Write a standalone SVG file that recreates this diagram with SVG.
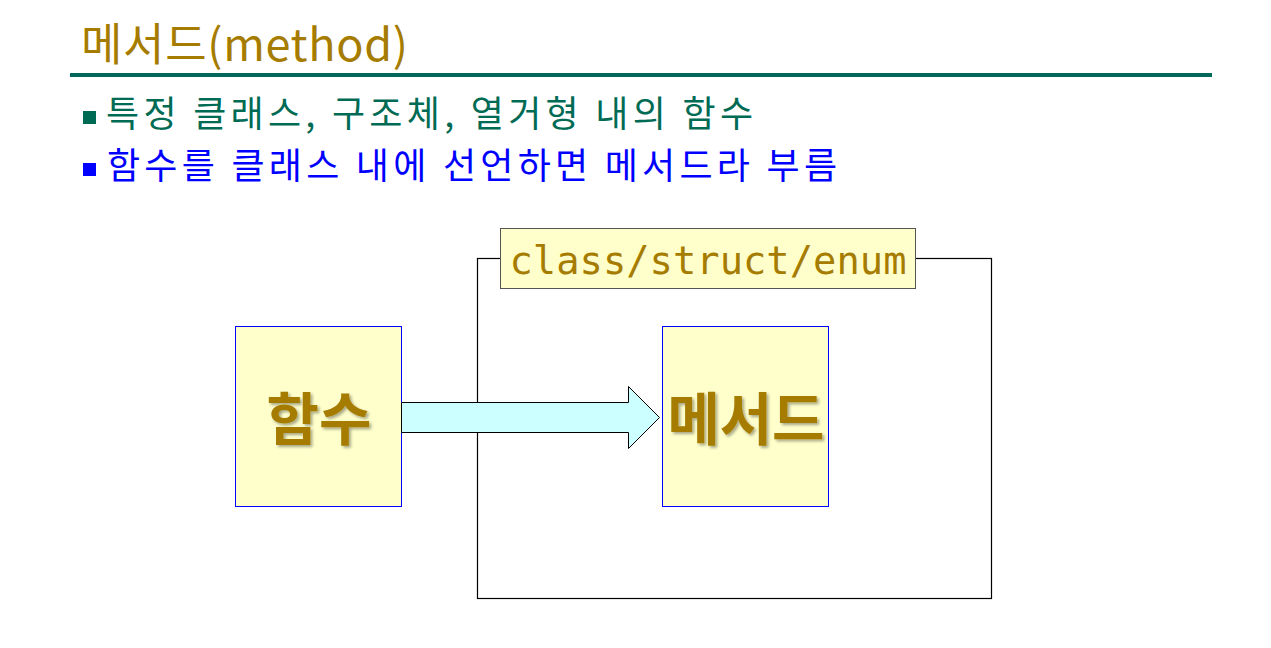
<svg xmlns="http://www.w3.org/2000/svg" width="1271" height="648" viewBox="0 0 1271 648">
<defs>
<style>
.kr{font-family:"Noto Sans CJK KR","Liberation Sans",sans-serif;}
.title{font-size:45px;fill:#A67C00;}
.b1{font-size:36px;fill:#006B54;}
.b2{font-size:36px;fill:#0000FF;}
.box{fill:#FFFFCC;stroke:#0000FF;stroke-width:1;}
.big{font-size:57px;font-weight:bold;fill:#A67C00;filter:url(#sh);}
.mono{font-family:"DejaVu Sans Mono","Liberation Mono",monospace;font-size:39px;fill:#A67C00;}
</style>
<filter id="sh" x="-10%" y="-10%" width="130%" height="130%">
<feGaussianBlur in="SourceAlpha" stdDeviation="1.5"/>
<feOffset dx="2" dy="2" result="b"/>
<feComponentTransfer><feFuncA type="linear" slope="0.35"/></feComponentTransfer>
<feMerge><feMergeNode/><feMergeNode in="SourceGraphic"/></feMerge>
</filter>
</defs>
<rect width="1271" height="648" fill="#FFFFFF"/>
<g id="header">
<text class="kr title" x="81" y="61" textLength="327" lengthAdjust="spacing">메서드(method)</text>
<rect x="70" y="73" width="1142" height="4" fill="#00695C"/>
<rect x="83" y="111" width="13" height="13" fill="#006B54"/>
<text class="kr b1" x="106" y="127" textLength="647" lengthAdjust="spacing">특정 클래스, 구조체, 열거형 내의 함수</text>
<rect x="83" y="163" width="13" height="13" fill="#0000FF"/>
<text class="kr b2" x="107" y="179" textLength="730" lengthAdjust="spacing">함수를 클래스 내에 선언하면 메서드라 부름</text>
</g>
<g id="frame">
<rect x="477.5" y="258.5" width="514" height="340" fill="none" stroke="#000000" stroke-width="1.2"/>
</g>
<g id="class-label">
<rect x="500.5" y="228.5" width="415" height="60" fill="#FFFFCC" stroke="#555555" stroke-width="1"/>
<text class="mono" x="708" y="274" text-anchor="middle" textLength="397" lengthAdjust="spacingAndGlyphs">class/struct/enum</text>
</g>
<g id="func">
<rect class="box" x="235.5" y="326.5" width="166" height="180"/>
<text class="kr big" x="319" y="440" text-anchor="middle">함수</text>
</g>
<g id="method">
<rect class="box" x="662.5" y="326.5" width="166" height="180"/>
<text class="kr big" x="746" y="440" text-anchor="middle" textLength="157" lengthAdjust="spacing">메서드</text>
</g>
<g id="connectors">
<path d="M401.5,402.5 H628.5 V386.5 L659.5,417.5 L628.5,448.5 V432.5 H401.5 Z" fill="#CCFFFF" stroke="#000000" stroke-width="1"/>
</g>
</svg>
